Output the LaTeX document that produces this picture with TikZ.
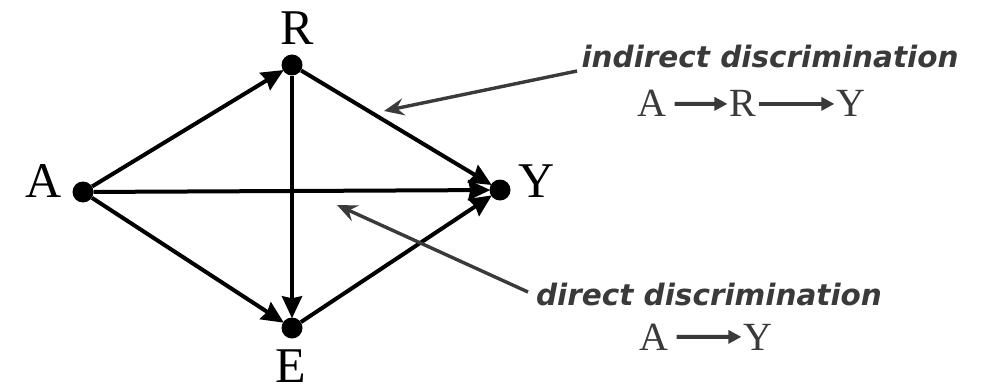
\documentclass[tikz,border=0pt]{standalone}
\usepackage{fontspec}
\setmainfont{Liberation Serif}
\newfontfamily\annfont{DejaVu Sans}
\usetikzlibrary{arrows.meta}
\definecolor{anngray}{HTML}{3A3A3A}
\begin{document}
\begin{tikzpicture}[x=1pt,y=-1pt,
  dot/.style={circle,fill=black,minimum size=21pt,inner sep=0pt},
  biglbl/.style={anchor=base,inner sep=0pt,font=\fontsize{50}{50}\selectfont},
  smalllbl/.style={anchor=base,inner sep=0pt,text=anngray,font=\fontsize{40}{40}\selectfont},
  edge/.style={line width=4pt,-{Stealth[length=22pt,width=20pt,inset=2pt]},shorten >=-1pt},
  annarrow/.style={line width=3.4pt,draw=anngray,-{Stealth[length=20pt,width=17pt,inset=7pt]}},
  fmlarrow/.style={line width=4pt,draw=anngray,-{Triangle[length=13pt,width=13pt]}},
  anntext/.style={anchor=base,inner sep=0pt,text=anngray,font=\annfont\bfseries\itshape\fontsize{29.5}{29.5}\selectfont}]
\useasboundingbox[fill=white] (0,0) rectangle (981,390);
% dots
\node[dot] (a) at (83,192) {};
\node[dot] (r) at (292,65) {};
\node[dot] (y) at (500,190) {};
\node[dot] (e) at (292,328) {};
% labels
\node[biglbl] (la) at (44,197) {A};
\node[biglbl] (lr) at (297,45) {R};
\node[biglbl] (ly) at (537,197) {Y};
\node[biglbl] (le) at (291,382) {E};
% edges
\draw[edge] (a) -- (r);
\draw[edge] (a) -- (y);
\draw[edge] (a) -- (e);
\draw[edge] (r) -- (y);
\draw[edge] (r) -- (e);
\draw[edge] (e) -- (y);
% annotations
\node[anntext] (ind) at (770,68) {indirect discrimination};
\node[anntext] (dir) at (709,305) {direct discrimination};
\coordinate (ind0) at (577,71);
\coordinate (ind1) at (384,111);
\coordinate (dir0) at (528,292);
\coordinate (dir1) at (337,205);
\draw[annarrow] (ind0) -- (ind1);
\draw[annarrow] (dir0) -- (dir1);
% formulas
\node[smalllbl] (fa1) at (652,117) {A};
\node[smalllbl] (fr1) at (743,117) {R};
\node[smalllbl] (fy1) at (851,117) {Y};
\draw[fmlarrow] ([xshift=8pt]fa1.east) -- ([xshift=-2pt]fr1.west);
\draw[fmlarrow] ([xshift=2pt]fr1.east) -- ([xshift=-2pt]fy1.west);
\node[smalllbl] (fa2) at (654,350) {A};
\node[smalllbl] (fy2) at (758,350) {Y};
\draw[fmlarrow] ([xshift=8pt]fa2.east) -- ([xshift=-2pt]fy2.west);
\end{tikzpicture}
\end{document}
